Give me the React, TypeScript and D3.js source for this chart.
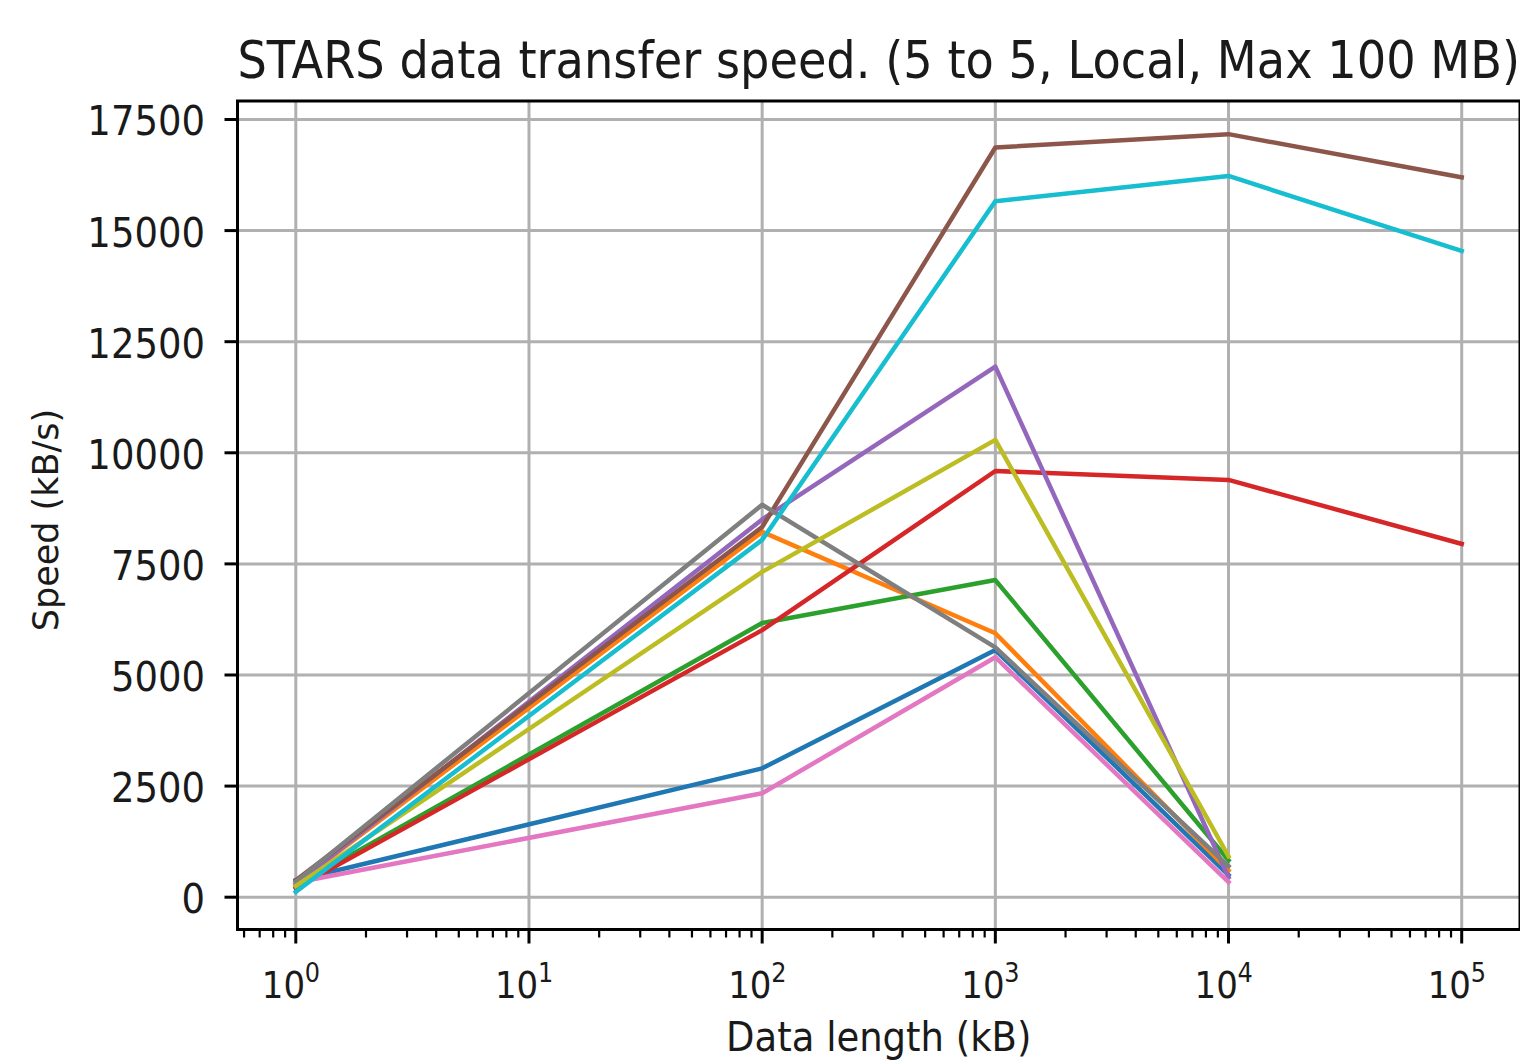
import React from "react";
import * as d3 from "d3";

const title = "STARS data transfer speed. (5 to 5, Local, Max 100 MB)";
const xLabel = "Data length (kB)";
const yLabel = "Speed (kB/s)";

const dataLengths = [1, 100, 1000, 10000, 100000];
const yTicks = [0, 2500, 5000, 7500, 10000, 12500, 15000, 17500];
const xMajorExps = [0, 1, 2, 3, 4, 5];

const seriesBlue = [380, 2900, 5560, 500];
const seriesOrange = [300, 8220, 5940, 600];
const seriesGreen = [250, 6170, 7136, 830];
const seriesRed = [200, 6010, 9590, 9390, 7950];
const seriesPurple = [300, 8500, 11940, 450];
const seriesBrown = [380, 8330, 16870, 17170, 16200];
const seriesPink = [330, 2340, 5400, 340];
const seriesGray = [350, 8830, 5620, 700];
const seriesOlive = [250, 7320, 10290, 920];
const seriesCyan = [120, 8040, 15660, 16230, 14540];

const allSeries = [
  seriesBlue, seriesOrange, seriesGreen, seriesRed, seriesPurple,
  seriesBrown, seriesPink, seriesGray, seriesOlive, seriesCyan,
];
const colors = [
  "#1f77b4", "#ff7f0e", "#2ca02c", "#d62728", "#9467bd",
  "#8c564b", "#e377c2", "#7f7f7f", "#bcbd22", "#17becf",
];

const FONT = "'DejaVu Sans', sans-serif";
const SY = 1.1;

export default function App() {
  const left = 237.5, right = 1520, top = 101, bottom = 929.5;
  const x = d3.scaleLog().domain([Math.pow(10, -0.25), Math.pow(10, 5.25)]).range([left, right]);
  const y = d3.scaleLinear().domain([-727, 17916]).range([bottom, top]);

  const minorTicks: number[] = [];
  for (let k = -1; k <= 5; k++) {
    for (let m = 2; m <= 9; m++) {
      const v = m * Math.pow(10, k);
      if (v >= x.domain()[0] && v <= x.domain()[1]) minorTicks.push(v);
    }
  }

  const line = d3.line<number>().x((_, i) => x(dataLengths[i])).y((d) => y(d));

  return (
    <svg width={1520} height={1061} style={{ position: "absolute", left: 0, top: 0, background: "#fff" }}>
      <rect x={0} y={0} width={1520} height={1061} fill="#fff" />
      <defs>
        <clipPath id="plot">
          <rect x={left} y={top} width={right - left} height={bottom - top} />
        </clipPath>
      </defs>
      {/* grid */}
      {xMajorExps.map((e) => (
        <line key={"gx" + e} x1={x(Math.pow(10, e))} x2={x(Math.pow(10, e))} y1={top} y2={bottom} stroke="#b0b0b0" strokeWidth={3} />
      ))}
      {yTicks.map((t) => (
        <line key={"gy" + t} x1={left} x2={right} y1={y(t)} y2={y(t)} stroke="#b0b0b0" strokeWidth={3} />
      ))}
      {/* lines */}
      <g clipPath="url(#plot)">
        {allSeries.map((s, i) => (
          <path key={i} d={line(s) || ""} fill="none" stroke={colors[i]} strokeWidth={4.5} strokeLinejoin="round" strokeLinecap="square" />
        ))}
      </g>
      {/* spines */}
      <rect x={left} y={top} width={right - left} height={bottom - top} fill="none" stroke="#000" strokeWidth={3} />
      {/* y ticks */}
      {yTicks.map((t) => (
        <g key={"yt" + t}>
          <line x1={left - 13} x2={left} y1={y(t)} y2={y(t)} stroke="#000" strokeWidth={3} />
          <text transform={`translate(${205},${y(t) + 16}) scale(1,${SY})`} textAnchor="end" fontFamily={FONT} fontSize={37} fill="#1a1a1a">
            {t}
          </text>
        </g>
      ))}
      {/* x minor ticks */}
      {minorTicks.map((v, i) => (
        <line key={"mx" + i} x1={x(v)} x2={x(v)} y1={bottom} y2={bottom + 8} stroke="#000" strokeWidth={2.2} />
      ))}
      {/* x major ticks */}
      {xMajorExps.map((e) => {
        const px = x(Math.pow(10, e));
        return (
          <g key={"xt" + e}>
            <line x1={px} x2={px} y1={bottom} y2={bottom + 14} stroke="#000" strokeWidth={3} />
            <text transform={`translate(${px - 34},${998}) scale(1,${SY})`} fontFamily={FONT} fontSize={34} fill="#1a1a1a">
              10
            </text>
            <text transform={`translate(${px + 9},${982}) scale(1,${SY})`} fontFamily={FONT} fontSize={24} fill="#1a1a1a">
              {e}
            </text>
          </g>
        );
      })}
      {/* axis labels */}
      <text transform={`translate(${(left + right) / 2},${1051}) scale(1,${SY})`} textAnchor="middle" fontFamily={FONT} fontSize={37} fill="#1a1a1a">
        {xLabel}
      </text>
      <text transform={`translate(${58},${520}) rotate(-90)`} textAnchor="middle" fontFamily={FONT} fontSize={35} fill="#1a1a1a">
        {yLabel}
      </text>
      {/* title */}
      <text transform={`translate(${(left + right) / 2},${78}) scale(1,${SY})`} textAnchor="middle" fontFamily={FONT} fontSize={46.3} fill="#1a1a1a">
        {title}
      </text>
    </svg>
  );
}
